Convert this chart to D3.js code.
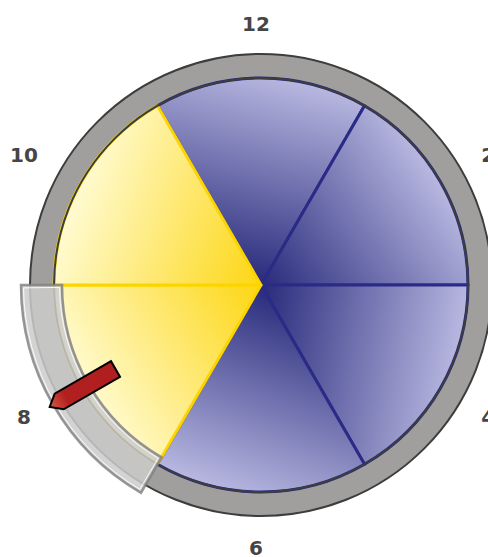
<!DOCTYPE html>
<html>
<head>
<meta charset="utf-8">
<script src="https://cdn.jsdelivr.net/npm/d3@7"></script>
<style>
body { margin: 0; background: #fff; }
</style>
</head>
<body>
<div id="clock"></div>
<script>
// two-hour segments of a 12 hour dial
var segments = ["11-1", "1-3", "3-5", "5-7", "7-9", "9-11"];
var segmentHours = [2, 2, 2, 2, 2, 2];
var segmentActive = [false, false, false, false, true, true];
var hourLabels = [12, 2, 4, 6, 8, 10];
var bandHours = [7, 9];
var pointerHour = 8;

var svgWidth = 488;
var svgHeight = 557;
var cx = 261, cy = 285;
var rPie = 207, rRing = 231;

// direction (deg, clockwise from 12) the light end of each slice shading points to
var shadeDir = [15, 55, 100, 200, 240, 290];

var svg = d3.select("#clock")
  .append("svg")
  .attr("width", svgWidth)
  .attr("height", svgHeight);

var defs = svg.append("defs");

var hourScale = d3.scaleLinear()
  .domain([0, 12])
  .range([0, 2 * Math.PI]);

var pie = d3.pie()
  .sort(null)
  .value(d => d)
  .startAngle(hourScale(-1))
  .endAngle(hourScale(11));

var arcs = pie(segmentHours);
arcs.forEach(function(a, i) {
  a.name = segments[i];
  a.active = segmentActive[i];
  a.idx = i;
});

// gradients
arcs.forEach(function(a, i) {
  var ang = shadeDir[i] * Math.PI / 180;
  var g = defs.append("linearGradient")
    .attr("id", "shade" + i)
    .attr("gradientUnits", "userSpaceOnUse")
    .attr("x1", 0).attr("y1", 0)
    .attr("x2", rPie * Math.sin(ang))
    .attr("y2", -rPie * Math.cos(ang));
  var c0 = a.active ? "#fdd612" : "#282a7b";
  var c1 = a.active ? "#fffbd2" : "#b8b8e1";
  g.append("stop").attr("offset", "0%").attr("stop-color", c0);
  g.append("stop").attr("offset", "100%").attr("stop-color", c1);
});

var ptrGrad = defs.append("linearGradient")
  .attr("id", "ptrGrad")
  .attr("x1", 0).attr("y1", 1).attr("x2", 0).attr("y2", 0);
ptrGrad.append("stop").attr("offset", "0%").attr("stop-color", "#b01e1f");
ptrGrad.append("stop").attr("offset", "75%").attr("stop-color", "#b21f1f");
ptrGrad.append("stop").attr("offset", "100%").attr("stop-color", "#d45a42");

var chartGroup = svg.append("g")
  .attr("transform", `translate(${cx}, ${cy})`);

// outer ring
chartGroup.append("circle")
  .attr("r", rRing)
  .attr("fill", "#a09f9d")
  .attr("stroke", "#3d3d3d")
  .attr("stroke-width", 2);

// slices (inactive first so the yellow edges sit on top)
var arcGen = d3.arc().innerRadius(0).outerRadius(rPie);
var ordered = arcs.filter(a => !a.active).concat(arcs.filter(a => a.active));

chartGroup.selectAll("path.slice")
  .data(ordered)
  .enter()
  .append("path")
  .attr("class", "slice")
  .attr("d", arcGen)
  .attr("fill", d => `url(#shade${d.idx})`)
  .attr("stroke", d => d.active ? "#fcd500" : "#2a2b86")
  .attr("stroke-width", 3)
  .attr("stroke-linejoin", "round");

chartGroup.append("circle")
  .attr("r", rPie)
  .attr("fill", "none")
  .attr("stroke", "#3d3d3d")
  .attr("stroke-width", 2);

// highlight band over the current segment
var band = d3.arc()
  .innerRadius(199)
  .outerRadius(240)
  .startAngle(hourScale(bandHours[0]))
  .endAngle(hourScale(bandHours[1]));

chartGroup.append("path")
  .attr("d", band())
  .attr("fill", "#cbcbcb")
  .attr("fill-opacity", 0.85)
  .attr("stroke", "#7e7e7e")
  .attr("stroke-opacity", 0.8)
  .attr("stroke-width", 2.5);

var bandInner = d3.arc()
  .innerRadius(201.5)
  .outerRadius(237.5)
  .startAngle(hourScale(bandHours[0]) + 0.012)
  .endAngle(hourScale(bandHours[1]) - 0.012);

chartGroup.append("path")
  .attr("d", bandInner())
  .attr("fill", "none")
  .attr("stroke", "#ffffff")
  .attr("stroke-opacity", 0.9)
  .attr("stroke-width", 1);

// pointer
var pointer = chartGroup.append("g")
  .attr("transform", `rotate(${hourScale(pointerHour) * 180 / Math.PI})`);

pointer.append("path")
  .attr("d", "M-9,-168 L9,-168 L9,-233 L0,-244 L-9,-233 Z")
  .attr("fill", "url(#ptrGrad)")
  .attr("stroke", "#000")
  .attr("stroke-width", 2)
  .attr("stroke-linejoin", "miter");

// hour labels
var lcx = 256, lcy = 286, lrx = 268, lry = 262;
svg.append("g")
  .selectAll("text")
  .data(hourLabels)
  .enter()
  .append("text")
  .attr("x", d => lcx + lrx * Math.sin(hourScale(d)))
  .attr("y", d => lcy - lry * Math.cos(hourScale(d)))
  .attr("dy", "0.35em")
  .attr("text-anchor", "middle")
  .style("font-family", "DejaVu Sans")
  .style("font-weight", "bold")
  .style("font-size", "20px")
  .style("fill", "#454545")
  .text(d => d);
</script>
</body>
</html>
